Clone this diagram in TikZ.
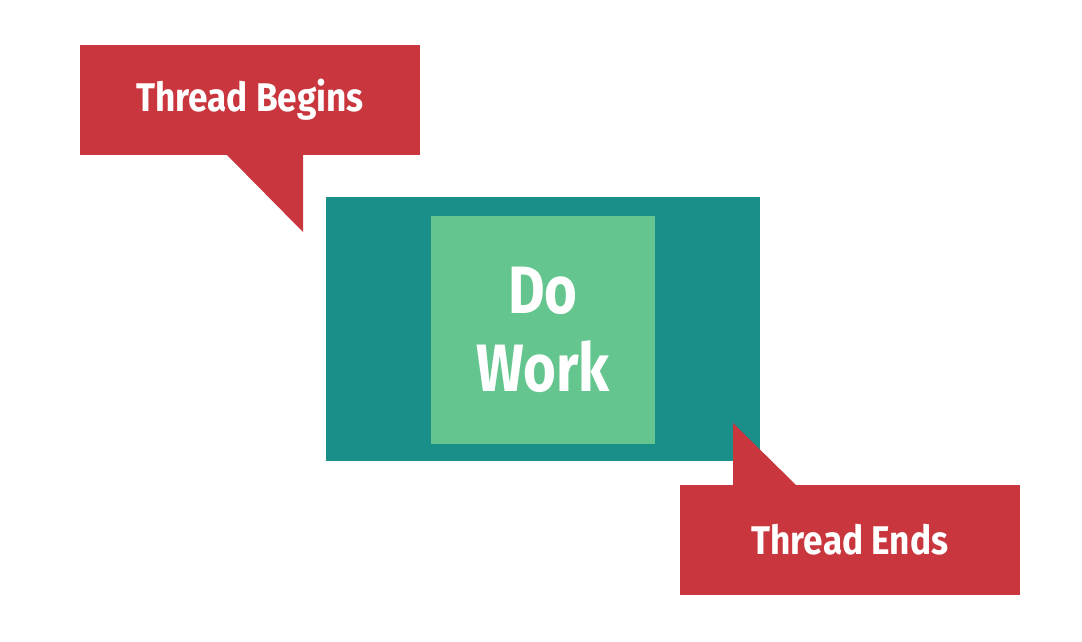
\documentclass[tikz,border=0pt]{standalone}
\usepackage{fontspec}
\newfontfamily\labelfont[FakeStretch=0.88]{Fira Sans}
\newfontfamily\workfont[FakeStretch=0.84]{Fira Sans}
\usetikzlibrary{positioning}
\definecolor{threadred}{HTML}{C9363E}
\definecolor{workteal}{HTML}{1A8E89}
\definecolor{workgreen}{HTML}{64C68E}

\begin{document}
\begin{tikzpicture}[x=1pt, y=-1pt,
    every node/.style={inner sep=0pt, outer sep=0pt},
    callout box/.style={fill=threadred, text=white,
      minimum width=340pt, minimum height=110pt,
      font=\labelfont\bfseries\fontsize{40}{46}\selectfont}]
    \useasboundingbox (0,0) rectangle (1082,642);
    % work block
    \node[fill=workteal, minimum width=434pt, minimum height=264pt] (outer) at (543,329) {};
    \node[fill=workgreen, minimum width=224pt, minimum height=228pt, text=white,
      align=center, font=\workfont\bfseries\fontsize{67}{78}\selectfont] (work) at (543,329.5) {Do\\Work};
    % callouts
    \node[callout box] (begins) at (250,100) {Thread Begins};
    \fill[threadred] ([xshift=-23pt]begins.south) -- ([xshift=53pt]begins.south)
      -- ([xshift=53pt, yshift=-77pt]begins.south) -- cycle;
    \node[callout box] (ends) at (850,540) {Thread Ends};
    \fill[threadred] ([xshift=-117pt]ends.north) -- ([xshift=-117pt, yshift=62pt]ends.north)
      -- ([xshift=-54pt]ends.north) -- cycle;
\end{tikzpicture}
\end{document}
